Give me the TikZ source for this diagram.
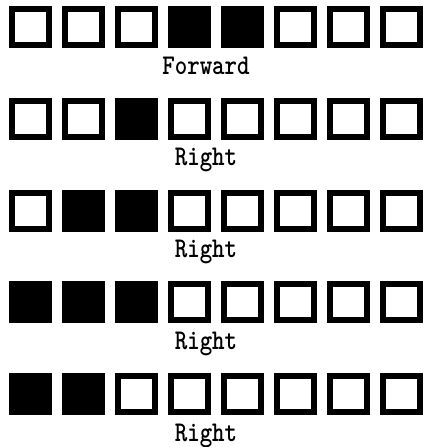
\documentclass[tikz,border=0pt]{standalone}
\usepackage{graphicx}
\begin{document}
\begin{tikzpicture}[x=1pt, y=-1pt,
	cell/.style={draw, line width=6pt, minimum width=37pt, minimum height=36pt,
		inner sep=0pt, outer sep=0pt},
	on/.style={cell, fill=black},
	off/.style={cell, fill=white},
	movelabel/.style={anchor=base, inner sep=0pt,
		font=\ttfamily\bfseries\fontsize{23.8}{24}\selectfont}]
	
	% 1. Picture limits
	\def\xmin{0}
	\def\xmax{424}
	\def\ymin{0}
	\def\ymax{447}
	\useasboundingbox (\xmin,\ymin) rectangle (\xmax,\ymax);
	
	% 2. Grid spacing
	\def\colstep{53}
	\def\rowstep{91.75}
	
	% 3. Rows of cells with the move below each row
	\foreach \r/\pat/\move in {0/{0,0,0,1,1,0,0,0}/Forward,
		1/{0,0,1,0,0,0,0,0}/Right,
		2/{0,1,1,0,0,0,0,0}/Right,
		3/{1,1,1,0,0,0,0,0}/Right,
		4/{1,1,0,0,0,0,0,0}/Right}{
		\foreach \v [count=\c from 0] in \pat {
			\ifnum\v=1
				\node[on] (c\r-\c) at ({30.5+\colstep*\c}, {27+\rowstep*\r}) {};
			\else
				\node[off] (c\r-\c) at ({30.5+\colstep*\c}, {27+\rowstep*\r}) {};
			\fi
		}
		% move name
		\node[movelabel] (m\r) at (206, {74+\rowstep*\r}) {\scalebox{1}[1.2]{\move}};
	}
	
\end{tikzpicture}
\end{document}
